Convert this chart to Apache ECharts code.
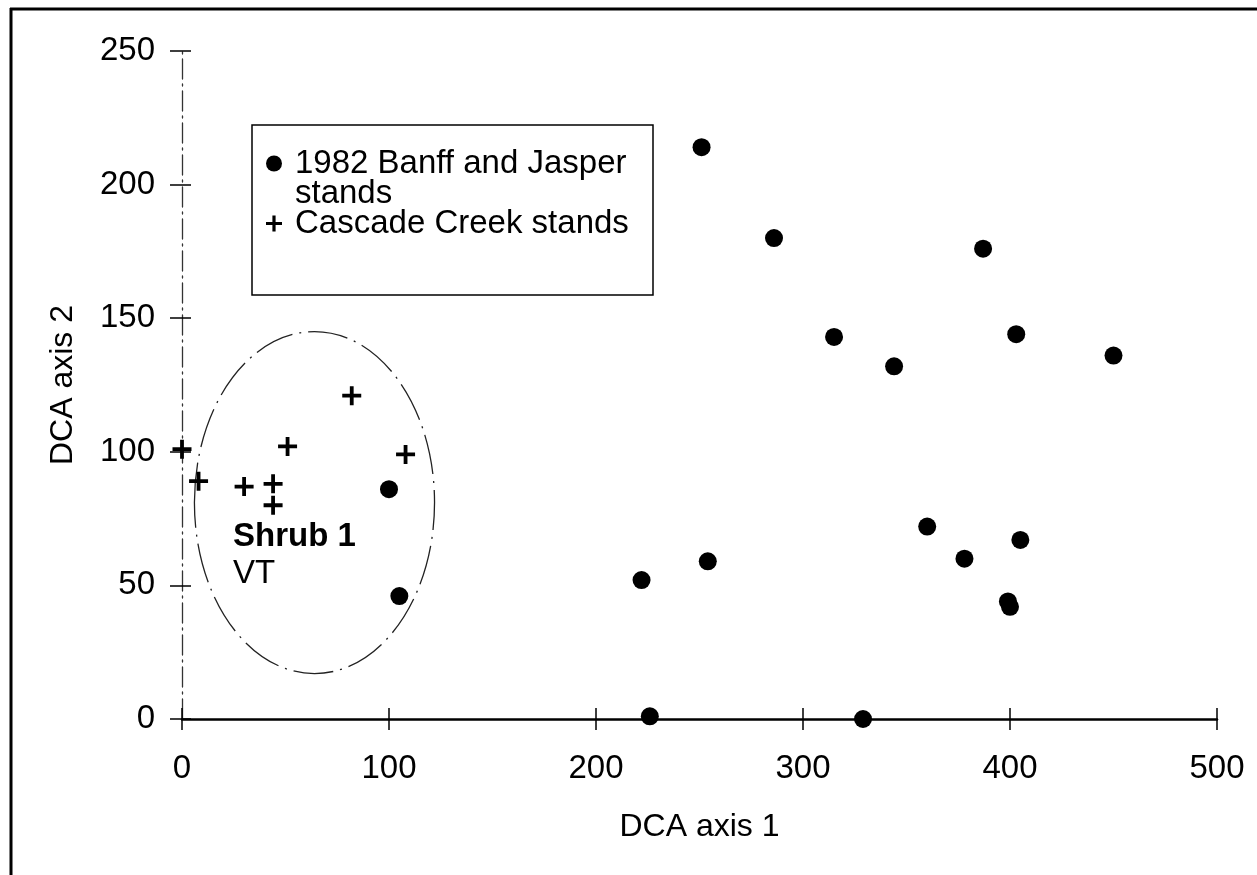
<!DOCTYPE html>
<html>
<head>
<meta charset="utf-8">
<script src="https://cdn.jsdelivr.net/npm/echarts@6/dist/echarts.min.js"></script>
<style>
  html, body { margin: 0; padding: 0; background: #fff; }
  #chart { width: 1257px; height: 875px; }
</style>
</head>
<body>
<div id="chart"></div>
<script>
  // 1982 Banff and Jasper stands
  var banffX = [251, 286, 387, 315, 344, 403, 450, 100, 105, 222, 254, 360, 378, 405, 399, 400, 226, 329];
  var banffY = [214, 180, 176, 143, 132, 144, 136, 86, 46, 52, 59, 72, 60, 67, 44, 42, 1, 0];
  // Cascade Creek stands
  var cascadeX = [0, 8, 30, 44, 44, 51, 82, 108];
  var cascadeY = [101, 89, 87, 88, 80, 102, 121, 99];

  var xTicks = [0, 100, 200, 300, 400, 500];
  var yTicks = [0, 50, 100, 150, 200, 250];

  // Shrub 1 / VT group outline (centre and radii in data units)
  var groupCentre = [64, 81];
  var groupRadius = [58, 64];

  var font = "'Liberation Sans', Arial, sans-serif";
  var plus = 'path://M0,8H20V12H0Z M8,0H12V20H8Z';
  var banffName = '1982 Banff and Jasper stands';
  var cascadeName = 'Cascade Creek stands';

  function zip(xs, ys) {
    return xs.map(function (x, i) { return [x, ys[i]]; });
  }

  var chart = echarts.init(document.getElementById('chart'));

  var xBase = {
    type: 'value', min: xTicks[0], max: xTicks[xTicks.length - 1], interval: 100,
    position: 'bottom', splitLine: { show: false }
  };
  var yBase = {
    type: 'value', min: yTicks[0], max: yTicks[yTicks.length - 1], interval: 50,
    position: 'left', splitLine: { show: false }
  };

  var option = {
    animation: false,
    backgroundColor: '#fff',
    grid: { left: 182, right: 40, top: 51, bottom: 156 },
    xAxis: [
      Object.assign({}, xBase, {
        name: 'DCA axis 1', nameLocation: 'middle', nameGap: 92,
        nameTextStyle: { fontFamily: font, fontSize: 32, color: '#000' },
        axisLine: { show: true, lineStyle: { color: '#000', width: 2.5 } },
        axisTick: { show: true, inside: false, length: 11, lineStyle: { color: '#000', width: 1.5 } },
        axisLabel: { fontFamily: font, fontSize: 33, color: '#000', margin: 33 }
      }),
      Object.assign({}, xBase, {
        axisLine: { show: false },
        axisTick: { show: true, inside: true, length: 11, lineStyle: { color: '#000', width: 1.5 } },
        axisLabel: { show: false }
      })
    ],
    yAxis: [
      Object.assign({}, yBase, {
        name: 'DCA axis 2', nameLocation: 'middle', nameGap: 103, nameRotate: 90,
        nameTextStyle: { fontFamily: font, fontSize: 32, color: '#000' },
        axisLine: { show: true, lineStyle: { color: '#333', width: 1.3, type: [20, 5, 2, 5] } },
        axisTick: { show: true, inside: false, length: 12, lineStyle: { color: '#000', width: 1.5 } },
        axisLabel: { fontFamily: font, fontSize: 33, color: '#000', margin: 27 }
      }),
      Object.assign({}, yBase, {
        axisLine: { show: false },
        axisTick: { show: true, inside: true, length: 9, lineStyle: { color: '#000', width: 1.5 } },
        axisLabel: { show: false }
      })
    ],
    legend: {
      orient: 'vertical',
      left: 266, top: 117,
      padding: 0,
      itemGap: -3,
      itemWidth: 16, itemHeight: 16,
      selectedMode: false,
      textStyle: { fontFamily: font, fontSize: 33, color: '#000', lineHeight: 30, padding: [0, 0, 0, 8] },
      // leading blank line keeps the first text line level with the icon
      formatter: function (name) {
        return name === banffName ? '\n1982 Banff and Jasper\nstands' : name;
      },
      data: [
        { name: banffName, icon: 'circle' },
        { name: cascadeName, icon: plus }
      ]
    },
    series: [
      {
        name: banffName, type: 'scatter',
        symbol: 'circle', symbolSize: 18,
        itemStyle: { color: '#000', opacity: 1 },
        data: zip(banffX, banffY)
      },
      {
        name: cascadeName, type: 'scatter',
        symbol: plus, symbolSize: 19,
        itemStyle: { color: '#000', opacity: 1 },
        data: zip(cascadeX, cascadeY)
      }
    ],
    graphic: [
      { id: 'frameLeft', type: 'line', shape: { x1: 11, y1: 8, x2: 11, y2: 875 }, style: { stroke: '#000', lineWidth: 3 } },
      { id: 'frameTop', type: 'line', shape: { x1: 10, y1: 9, x2: 1257, y2: 9 }, style: { stroke: '#000', lineWidth: 3 } },
      { id: 'legendBox', type: 'rect', shape: { x: 252, y: 125, width: 401, height: 170 },
        style: { fill: 'none', stroke: '#000', lineWidth: 1.5 }, z: 1 },
      { id: 'shrub', type: 'text', x: 233, y: 537,
        style: { text: 'Shrub 1', font: 'bold 33px ' + font, fill: '#000', verticalAlign: 'middle' } },
      { id: 'vt', type: 'text', x: 233, y: 574,
        style: { text: 'VT', font: '33px ' + font, fill: '#000', verticalAlign: 'middle' } }
    ]
  };

  chart.setOption(option);

  // outline round the Shrub 1 group, placed through the axes' scales
  var c = chart.convertToPixel({ gridIndex: 0 }, groupCentre);
  var e = chart.convertToPixel({ gridIndex: 0 }, [groupCentre[0] + groupRadius[0], groupCentre[1] + groupRadius[1]]);
  chart.setOption({
    graphic: [{
      id: 'shrubOutline', type: 'ellipse',
      shape: { cx: c[0], cy: c[1], rx: Math.abs(e[0] - c[0]), ry: Math.abs(c[1] - e[1]) },
      style: { fill: 'none', stroke: '#222', lineWidth: 1.3, lineDash: [40, 7, 2, 7] }
    }]
  });
</script>
</body>
</html>
